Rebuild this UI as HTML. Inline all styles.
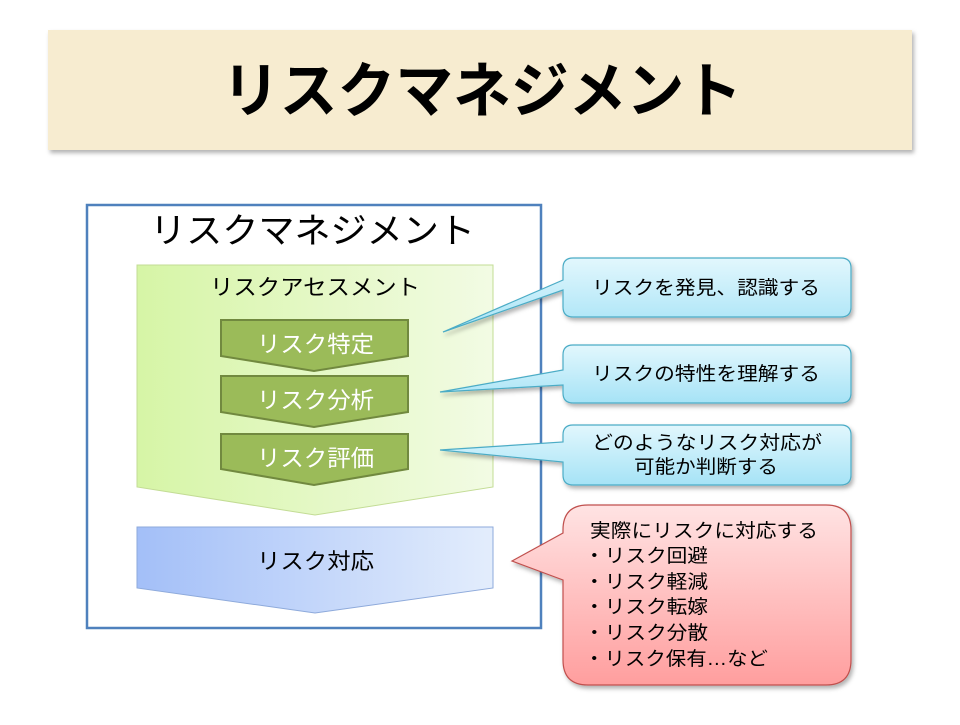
<!DOCTYPE html>
<html><head><meta charset="utf-8"><style>
body{margin:0;background:#fff;}
text{font-family:"Liberation Sans","Noto Sans CJK JP",sans-serif;}
</style></head><body>
<svg width="960" height="720" xmlns="http://www.w3.org/2000/svg">
<defs>
<linearGradient id="g1" x1="0" x2="1" y1="0" y2="0"><stop offset="0" stop-color="#d6f5a6"/><stop offset="1" stop-color="#f2fbe4"/></linearGradient>
<linearGradient id="b1" x1="0" x2="1" y1="0" y2="0"><stop offset="0" stop-color="#a3bff8"/><stop offset="1" stop-color="#e3edfc"/></linearGradient>
<linearGradient id="c1" x1="0" x2="0" y1="0" y2="1"><stop offset="0" stop-color="#e2f7fd"/><stop offset="1" stop-color="#a6e3f6"/></linearGradient>
<linearGradient id="r1" x1="0" x2="0" y1="0" y2="1"><stop offset="0" stop-color="#ffe3e3"/><stop offset="1" stop-color="#ff9e9e"/></linearGradient>
<filter id="sh" x="-10%" y="-10%" width="130%" height="140%"><feDropShadow dx="2" dy="3" stdDeviation="2" flood-color="#000" flood-opacity="0.3"/></filter>
</defs>
<rect x="48" y="30" width="864" height="120" fill="#f7ecd0" filter="url(#sh)"/>
<text x="222" y="112" font-size="60" font-weight="bold" fill="#000" textLength="520" lengthAdjust="spacingAndGlyphs">リスクマネジメント</text>

<rect x="87" y="205" width="454" height="423" fill="#fff" stroke="#4f81bd" stroke-width="2.5"/>
<text x="150" y="243" font-size="35" fill="#000" textLength="325" lengthAdjust="spacingAndGlyphs">リスクマネジメント</text>

<polygon points="137,265 493,265 493,487 315,515 137,487" fill="url(#g1)" stroke="#c3dc95" stroke-width="1"/>
<text x="210" y="295" font-size="22" fill="#000" textLength="210" lengthAdjust="spacingAndGlyphs">リスクアセスメント</text>

<g fill="#9bbb59" stroke="#71893f" stroke-width="2">
<polygon points="221,320 408,320 408,356 314,371 221,356"/>
<polygon points="221,376 408,376 408,412 314,427 221,412"/>
<polygon points="221,434 408,434 408,469 314,485 221,469"/>
</g>
<g font-size="23" fill="#fff">
<text x="257" y="352" textLength="117" lengthAdjust="spacingAndGlyphs">リスク特定</text>
<text x="257" y="408" textLength="117" lengthAdjust="spacingAndGlyphs">リスク分析</text>
<text x="257" y="466" textLength="117" lengthAdjust="spacingAndGlyphs">リスク評価</text>
</g>

<polygon points="137,527 493,527 493,588 315,613 137,588" fill="url(#b1)" stroke="#8eaadb" stroke-width="1"/>
<text x="257" y="569" font-size="22" fill="#000" textLength="117" lengthAdjust="spacingAndGlyphs">リスク対応</text>

<g stroke="#4bacc6" stroke-width="1.2" fill="url(#c1)" filter="url(#sh)">
<path d="M573,258 H841 Q851,258 851,268 V307 Q851,317 841,317 H573 Q563,317 563,307 V290 L443,332 L563,280 V268 Q563,258 573,258 Z"/>
<path d="M573,345 H841 Q851,345 851,355 V393 Q851,403 841,403 H573 Q563,403 563,393 V385 L440,392 L563,370 V355 Q563,345 573,345 Z"/>
<path d="M573,425 H841 Q851,425 851,435 V475 Q851,485 841,485 H573 Q563,485 563,475 V462 L440,450 L563,442 V435 Q563,425 573,425 Z"/>
</g>
<g font-size="19" fill="#000">
<text x="592" y="294" textLength="228" lengthAdjust="spacingAndGlyphs">リスクを発見、認識する</text>
<text x="592" y="380" textLength="228" lengthAdjust="spacingAndGlyphs">リスクの特性を理解する</text>
<text x="592" y="449" textLength="230" lengthAdjust="spacingAndGlyphs">どのようなリスク対応が</text>
<text x="634" y="473" textLength="144" lengthAdjust="spacingAndGlyphs">可能か判断する</text>
</g>

<path d="M588,505 H826 Q851,505 851,530 V660 Q851,685 826,685 H588 Q563,685 563,660 V580 L512,561 L563,533 V530 Q563,505 588,505 Z" fill="url(#r1)" stroke="#c0504d" stroke-width="1.2" filter="url(#sh)"/>
<g font-size="19" fill="#000">
<text x="590" y="537" textLength="228" lengthAdjust="spacingAndGlyphs">実際にリスクに対応する</text>
<text x="584" y="562" textLength="124" lengthAdjust="spacingAndGlyphs">・リスク回避</text>
<text x="584" y="588" textLength="124" lengthAdjust="spacingAndGlyphs">・リスク軽減</text>
<text x="584" y="613" textLength="124" lengthAdjust="spacingAndGlyphs">・リスク転嫁</text>
<text x="584" y="639" textLength="124" lengthAdjust="spacingAndGlyphs">・リスク分散</text>
<text x="584" y="665" textLength="184" lengthAdjust="spacingAndGlyphs">・リスク保有…など</text>
</g>
</svg>
</body></html>
